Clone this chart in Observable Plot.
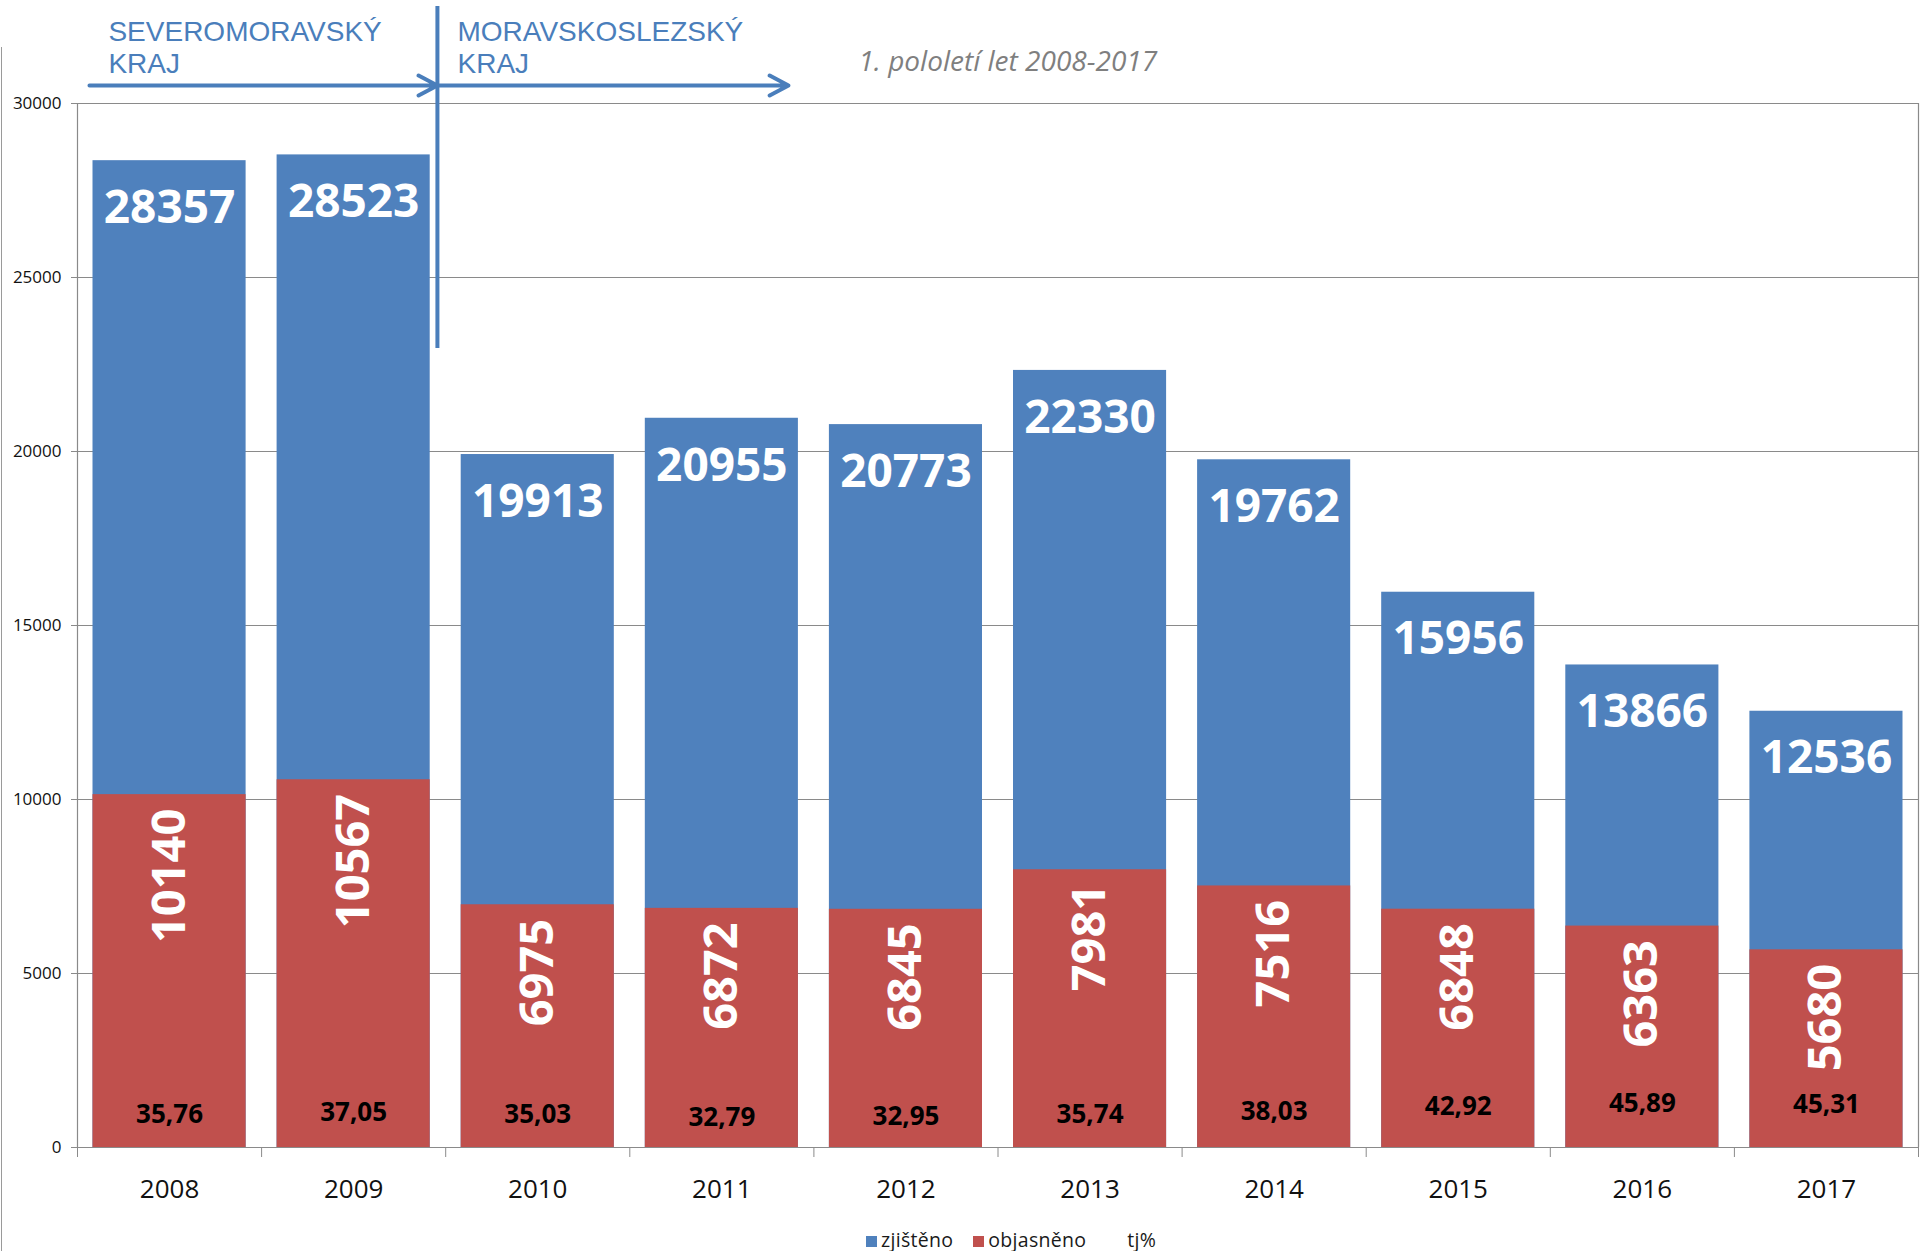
<!DOCTYPE html>
<html>
<head>
<meta charset="utf-8">
<script src="https://cdn.jsdelivr.net/npm/d3@7"></script>
<script src="https://cdn.jsdelivr.net/npm/@observablehq/plot@0.6"></script>
<style>
  html, body { margin: 0; padding: 0; background: #fff; overflow: hidden; }
  #wrap { position: relative; width: 1920px; height: 1251px; }
  #border { position: absolute; left: 1px; top: 47px; bottom: 0; width: 1px; background: #9a9a9a; }
  #legend { position: absolute; left: 866px; top: 1226px; font: 19.5px "Open Sans", sans-serif; color: #1a1a1a; line-height: 28px; white-space: nowrap; letter-spacing: 0.3px; }
  #legend .sw { display: inline-block; width: 11px; height: 11px; margin-right: 4px; vertical-align: 0px; }
  #legend .item { margin-right: 20px; }
  #legend .item:nth-child(2) { margin-right: 26px; }
</style>
</head>
<body>
<div id="wrap">
  <div id="chart"></div>
  <div id="border"></div>
  <div id="legend"></div>
</div>
<script>
// ---- data ----
const years = [2008, 2009, 2010, 2011, 2012, 2013, 2014, 2015, 2016, 2017];
const zjisteno = [28357, 28523, 19913, 20955, 20773, 22330, 19762, 15956, 13866, 12536];
const objasneno = [10140, 10567, 6975, 6872, 6845, 7981, 7516, 6848, 6363, 5680];
const tjPct = [35.76, 37.05, 35.03, 32.79, 32.95, 35.74, 38.03, 42.92, 45.89, 45.31];
const yTicks = [0, 5000, 10000, 15000, 20000, 25000, 30000];
const seriesNames = ["zjištěno", "objasněno", "tj%"];
const seriesColors = ["#4f81bd", "#c0504d", "transparent"];
const regionLabels = ["SEVEROMORAVSKÝ\nKRAJ", "MORAVSKOSLEZSKÝ\nKRAJ"];
const periodNote = "1. pololetí let 2008-2017";

// secondary-axis factor used by the tj% labels (label sits at tj * factor on the primary axis)
const TJ_FACTOR = 28.7;

const data = years.map((year, i) => ({year, zjisteno: zjisteno[i], objasneno: objasneno[i], tj: tjPct[i]}));
const boundaries = [years[0] - 0.5, ...years.map(y => y + 0.5)];

const blue = seriesColors[0], red = seriesColors[1];
const grid = "#8a8a8a";
const annot = "#4a7ebb";

const chart = Plot.plot({
  width: 1920,
  height: 1215,
  marginLeft: 77,
  marginRight: 2,
  marginTop: 103,
  marginBottom: 68,
  x: {type: "linear", domain: [years[0] - 0.5, years[years.length - 1] + 0.5], label: null},
  y: {domain: [0, 30000], label: null},
  style: {fontFamily: "'Open Sans', sans-serif", background: "#fff", overflow: "visible"},
  marks: [
    Plot.ruleY(yTicks, {stroke: grid, strokeWidth: 1.2}),
    Plot.ruleX([boundaries[0], boundaries[boundaries.length - 1]], {stroke: grid, strokeWidth: 1.2}),
    Plot.rect(data, {x1: d => d.year - 0.5, x2: d => d.year + 0.5, y1: 0, y2: "zjisteno", fill: blue, insetLeft: 15.5, insetRight: 15.5}),
    Plot.rect(data, {x1: d => d.year - 0.5, x2: d => d.year + 0.5, y1: 0, y2: "objasneno", fill: red, insetLeft: 15.5, insetRight: 15.5}),
    Plot.axisY({ticks: yTicks, tickSize: 6, tickPadding: 10, fontSize: 17, stroke: grid, fill: "#111", tickFormat: d => String(d)}),
    Plot.axisX({ticks: boundaries, tickSize: 10, stroke: grid, tickFormat: () => ""}),
    Plot.axisX({ticks: years, tickSize: 0, tickPadding: 32, fontSize: 26, fill: "#111", tickFormat: d => String(d)}),
    Plot.ruleY([0], {stroke: grid, strokeWidth: 1.2}),
    // value labels
    Plot.text(data, {x: "year", y: "zjisteno", text: d => String(d.zjisteno), dy: 47.5, lineAnchor: "middle",
      fill: "#fff", fontSize: 46, fontWeight: "bold"}),
    Plot.text(data, {x: "year", y: "objasneno", text: d => String(d.objasneno), rotate: -90, textAnchor: "end",
      lineAnchor: "middle", dy: 14, fill: "#fff", fontSize: 47, fontWeight: "bold"}),
    Plot.text(data, {x: "year", y: d => d.tj * TJ_FACTOR, text: d => d.tj.toFixed(2).replace(".", ","),
      lineAnchor: "middle", dy: 2.5, fill: "#000", fontSize: 26, fontWeight: "bold"}),
    // annotations
    Plot.ruleX([2009.455], {y1: 32790, y2: 22960, stroke: annot, strokeWidth: 4}),
    Plot.arrow([0], {x1: 2007.565, x2: 2009.455, y1: 30517, y2: 30517, stroke: annot, strokeWidth: 4, headLength: 8, headAngle: 56}),
    Plot.arrow([0], {x1: 2009.455, x2: 2011.362, y1: 30517, y2: 30517, stroke: annot, strokeWidth: 4, headLength: 8, headAngle: 56}),
    Plot.text([regionLabels[0]], {x: 2007.668, y: 30870, text: d => d, textAnchor: "start", lineAnchor: "bottom",
      lineHeight: 32 / 28, fontSize: 28, fill: annot, fontFamily: "'Liberation Sans', Arial, sans-serif"}),
    Plot.text([regionLabels[1]], {x: 2009.564, y: 30870, text: d => d, textAnchor: "start", lineAnchor: "bottom",
      lineHeight: 32 / 28, fontSize: 28, fill: annot, fontFamily: "'Liberation Sans', Arial, sans-serif"}),
    Plot.text([periodNote], {x: 2011.742, y: 30930, text: d => d, textAnchor: "start", lineAnchor: "bottom",
      fontSize: 28, fontStyle: "italic", fill: "#7f7f7f"})
  ]
});
document.getElementById("chart").appendChild(chart);

// legend
const legend = document.getElementById("legend");
seriesNames.forEach((name, i) => {
  const item = document.createElement("span");
  item.className = "item";
  const sw = document.createElement("span");
  sw.className = "sw";
  sw.style.background = seriesColors[i];
  item.appendChild(sw);
  item.appendChild(document.createTextNode(name));
  legend.appendChild(item);
});
</script>
</body>
</html>
